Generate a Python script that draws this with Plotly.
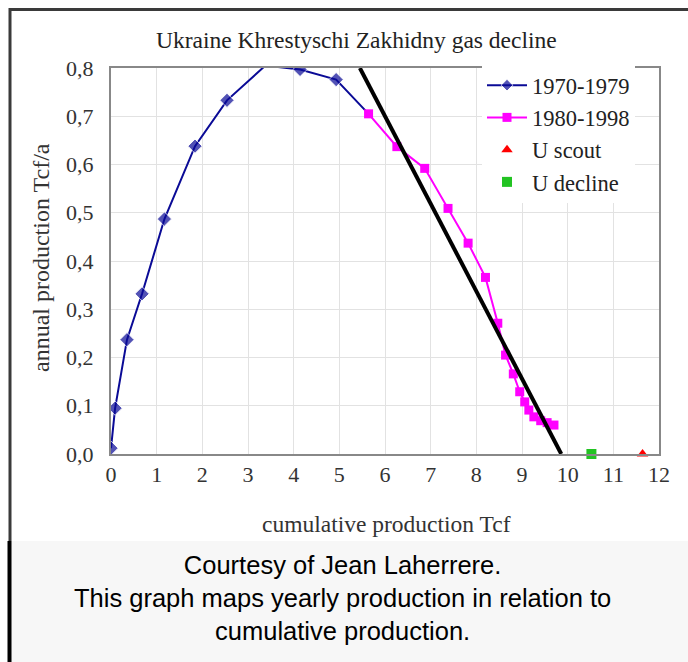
import plotly.graph_objects as go

# ---- data ----
cum_1970 = [0.0, 0.09, 0.35, 0.68, 1.17, 1.84, 2.54, 3.38, 4.14, 4.93, 5.64]
prod_1970 = [0.012, 0.095, 0.237, 0.332, 0.487, 0.638, 0.733, 0.805, 0.797, 0.776, 0.705]

cum_1980 = [5.64, 6.26, 6.87, 7.38, 7.82, 8.20, 8.47, 8.64, 8.81, 8.95, 9.06, 9.15,
            9.26, 9.41, 9.55, 9.70]
prod_1980 = [0.705, 0.637, 0.592, 0.509, 0.437, 0.366, 0.271, 0.205, 0.166, 0.129,
             0.108, 0.091, 0.077, 0.069, 0.065, 0.060]

decline_x = [5.45, 9.86]
decline_y = [0.80, 0.0]

u_scout_x = [11.64]
u_scout_y = [0.0]
u_decline_x = [10.52]
u_decline_y = [0.0]

x_ticks = list(range(0, 13))
y_ticks = [0.0, 0.1, 0.2, 0.3, 0.4, 0.5, 0.6, 0.7, 0.8]
y_tick_labels = ["0,0", "0,1", "0,2", "0,3", "0,4", "0,5", "0,6", "0,7", "0,8"]

title_text = "Ukraine Khrestyschi Zakhidny gas decline"
x_title = "cumulative production Tcf"
y_title = "annual production Tcf/a"
caption = ("Courtesy of Jean Laherrere.<br>This graph maps yearly production in relation to"
           "<br>cumulative production.")

# ---- layout geometry (pixels) ----
W, H = 688, 662
L, R, T, B = 111, 659, 68, 454
pw, ph = R - L, B - T


def px(xp):
    return (xp - L) / pw


def py(yp):
    return (B - yp) / ph


SERIF = "Liberation Serif"

fig = go.Figure()

sizes_1970 = [11] * len(cum_1970)
sizes_1970[7] = 0  # point above top edge (clipped in original)
sizes_1970[-1] = 0  # joins the 1980 series

fig.add_trace(go.Scatter(
    x=cum_1970, y=prod_1970, mode="lines+markers", name="1970-1979",
    line=dict(color="#0a0a96", width=2),
    marker=dict(symbol="diamond", size=sizes_1970, color="#0a0a96"),
    cliponaxis=True,
))
fig.add_trace(go.Scatter(
    x=cum_1980, y=prod_1980, mode="lines+markers", name="1980-1998",
    line=dict(color="#ff00ff", width=2),
    marker=dict(symbol="square", size=9, color="#ff00ff"),
))
fig.add_trace(go.Scatter(
    x=u_scout_x, y=u_scout_y, mode="markers", name="U scout",
    marker=dict(symbol="triangle-up", size=10, color="#ff0000"),
    cliponaxis=False,
))
fig.add_trace(go.Scatter(
    x=u_decline_x, y=u_decline_y, mode="markers", name="U decline",
    marker=dict(symbol="square", size=10, color="#22c322"),
    cliponaxis=False,
))
fig.add_trace(go.Scatter(
    x=decline_x, y=decline_y, mode="lines", name="decline",
    line=dict(color="#000000", width=4), showlegend=False,
))

shapes = [
    # caption box
    dict(type="rect", xref="paper", yref="paper", x0=px(11), x1=px(700), y0=py(541), y1=py(670),
         fillcolor="#f7f7f7", line=dict(width=0), layer="below"),
    # outer border lines
    dict(type="line", xref="paper", yref="paper", x0=px(10), x1=px(700), y0=py(9.5), y1=py(9.5),
         line=dict(color="#3a3a3a", width=3)),
    dict(type="line", xref="paper", yref="paper", x0=px(10), x1=px(10), y0=py(8), y1=py(541),
         line=dict(color="#3a3a3a", width=3)),
    dict(type="line", xref="paper", yref="paper", x0=px(9.5), x1=px(9.5), y0=py(541), y1=py(670),
         line=dict(color="#000000", width=4)),
]

annotations = [
    dict(text=title_text, x=px(356), y=py(40), xref="paper", yref="paper", showarrow=False,
         font=dict(family=SERIF, size=23.5, color="#222222"), xanchor="center", yanchor="middle"),
    dict(text=x_title, x=px(386), y=py(524), xref="paper", yref="paper", showarrow=False,
         font=dict(family=SERIF, size=23.5, color="#333333"), xanchor="center", yanchor="middle"),
    dict(text=y_title, x=px(41), y=py(258), xref="paper", yref="paper", showarrow=False,
         textangle=-90, font=dict(family=SERIF, size=24, color="#333333"),
         xanchor="center", yanchor="middle"),
    dict(text=caption, x=px(342), y=py(598), xref="paper", yref="paper", showarrow=False,
         font=dict(family="Liberation Sans", size=25.5, color="#000000"),
         xanchor="center", yanchor="middle", align="center"),
]

fig.update_layout(
    width=W, height=H,
    margin=dict(l=L, r=W - R, t=T, b=H - B, pad=0),
    paper_bgcolor="#ffffff", plot_bgcolor="#ffffff",
    showlegend=True,
    legend=dict(
        x=px(482), y=py(64), xanchor="left", yanchor="top",
        bgcolor="#ffffff", borderwidth=0,
        font=dict(family=SERIF, size=22.5, color="#222222"),
        tracegroupgap=0, itemwidth=40,
    ),
    shapes=shapes,
    annotations=annotations,
)

fig.update_xaxes(
    range=[0, 12], tickvals=x_ticks, ticktext=[str(v) for v in x_ticks],
    showgrid=True, gridcolor="#e2e2e2", gridwidth=1,
    showline=True, linecolor="#888888", linewidth=2, mirror=True,
    ticks="", zeroline=False,
    tickfont=dict(family=SERIF, size=22, color="#333333"),
)
fig.update_yaxes(
    range=[0, 0.8], tickvals=y_ticks, ticktext=y_tick_labels,
    showgrid=True, gridcolor="#e2e2e2", gridwidth=1,
    showline=True, linecolor="#888888", linewidth=2, mirror=True,
    ticks="", zeroline=False, ticklabelstandoff=11,
    tickfont=dict(family=SERIF, size=22, color="#333333"),
)

fig.write_html(
    "out.html",
    config={"displayModeBar": False},
    post_script="document.body.style.margin='0';document.body.style.overflow='hidden';",
)
